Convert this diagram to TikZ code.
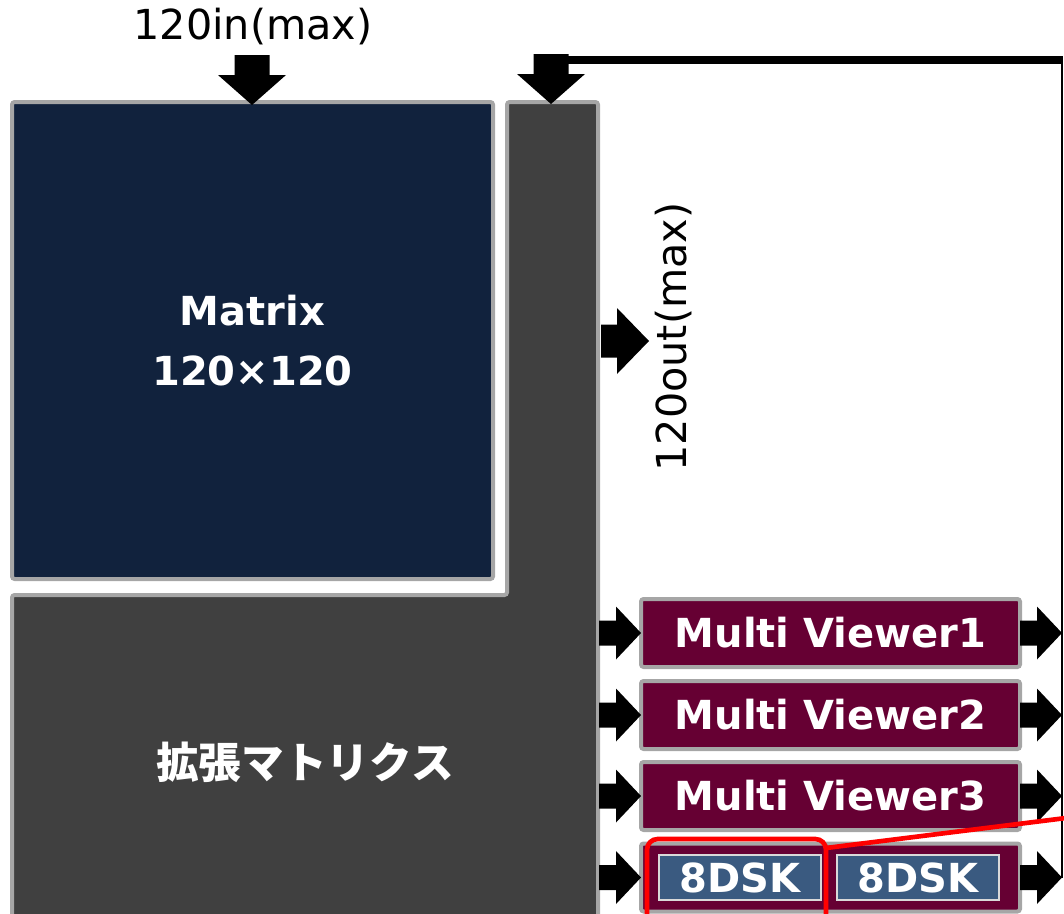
\documentclass[tikz,border=0pt]{standalone}
\usepackage{fontspec}
\setmainfont{DejaVu Sans}
\newfontfamily\cjk{Noto Sans CJK JP}
\definecolor{boxgray}{HTML}{A6A6A6}
\definecolor{navy}{HTML}{11223D}
\definecolor{darkgray}{HTML}{404040}
\definecolor{maroon}{HTML}{660033}
\definecolor{dskblue}{HTML}{3A5A80}
\definecolor{dskedge}{HTML}{D9D9D9}
\newcommand\downblk[1]{\fill[black,shift={#1}] (0,0) -- (-34,-30) -- (-17.5,-30) -- (-17.5,-50) -- (17.5,-50) -- (17.5,-30) -- (34,-30) -- cycle;}
\newcommand\rightblk[1]{\fill[black,shift={#1}] (0,0) -- (-25,-26.5) -- (-25,-12.5) -- (-42,-12.5) -- (-42,12.5) -- (-25,12.5) -- (-25,26.5) -- cycle;}
\newcommand\rightbig[1]{\fill[black,shift={#1}] (0,0) -- (-32,-33) -- (-32,-16.5) -- (-48,-16.5) -- (-48,16.5) -- (-32,16.5) -- (-32,33) -- cycle;}
\begin{document}
\begin{tikzpicture}[x=0.75pt,y=-0.75pt,
  graybox/.style={draw=boxgray,line width=3pt,rounded corners=2pt,inner sep=0pt},
  mvbox/.style={graybox,fill=maroon,minimum width=284.25pt,minimum height=51pt,text=white,font=\fontsize{30}{34}\selectfont\bfseries},
  dskbox/.style={draw=dskedge,line width=1.2pt,fill=dskblue,minimum width=121.5pt,minimum height=33.75pt,inner sep=0pt,text=white,font=\fontsize{30}{34}\selectfont\bfseries},
  lbl/.style={font=\fontsize{31}{36}\selectfont,text=black,inner sep=0pt}]
\useasboundingbox (0,0) rectangle (1064,914);
\clip (0,0) rectangle (1064,914);
% extension matrix (L shape)
\draw[draw=boxgray,fill=darkgray,line width=3pt,rounded corners=2pt]
  (507,102) -- (598,102) -- (598,940) -- (12,940) -- (12,595) -- (507,595) -- cycle;
\node[text=white,font=\cjk\fontsize{32}{36}\selectfont\bfseries] (ext) at (305,762) {拡張マトリクス};
% main matrix
\node[graybox,fill=navy,minimum width=360.75pt,minimum height=357.75pt,text=white,align=center,
  font=\fontsize{30}{45}\selectfont\bfseries] (mtx) at (252.5,340.5) {Matrix\\120×120};
% inputs
\node[lbl] (inlbl) at (253,27) {120in(max)};
\downblk{(252,105)}
\coordinate (colTop) at (551,104);
\downblk{(colTop)}
\coordinate (loopA) at (568,60);
\coordinate (loopB) at (1063,60);
\coordinate (loopC) at (1062,56);
\coordinate (loopD) at (1062,878);
\draw[line width=6pt] (loopA) -- (loopB);
\draw[line width=1.5pt] (loopC) -- (loopD);
% outputs
\rightbig{(649,341)}
\node[lbl,rotate=90] (outlbl) at (674,337) {120out(max)};
% multi viewers
\node[mvbox] (mv1) at (830.5,633) {Multi Viewer1};
\node[mvbox] (mv2) at (830.5,715) {Multi Viewer2};
\node[mvbox] (mv3) at (830.5,796) {Multi Viewer3};
\node[mvbox] (dskrow) at (830.5,877.5) {};
\node[dskbox] (dsk1) at (740,877.5) {8DSK};
\node[dskbox] (dsk2) at (918,877.5) {8DSK};
\foreach \yy in {633,715,796,877.5}{
  \rightblk{(641,\yy)}
  \rightblk{(1062,\yy)}
}
% highlight
\draw[red,line width=3.5pt,rounded corners=8pt] (647,839) rectangle (826,930);
\coordinate (hlEnd) at (1066,818);
\draw[red,line width=3.5pt] (826,848) -- (hlEnd);
\end{tikzpicture}
\end{document}
